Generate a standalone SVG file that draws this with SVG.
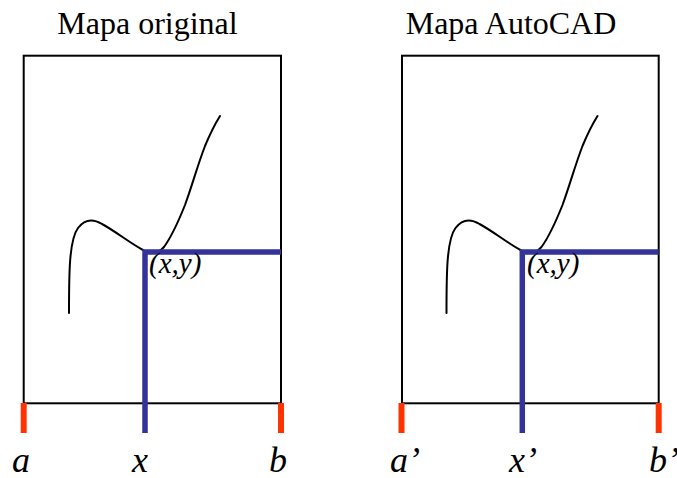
<svg xmlns="http://www.w3.org/2000/svg" width="677" height="478" viewBox="0 0 677 478">
<style>
.title{font-family:"Liberation Serif",serif;font-size:32px;fill:#000}
.lbl{font-family:"Liberation Serif",serif;font-style:italic;font-size:36px;fill:#000}
.pt{font-family:"Liberation Serif",serif;font-style:italic;font-size:29px;fill:#000}
.box{fill:none;stroke:#000;stroke-width:2}
.curve{fill:none;stroke:#000;stroke-width:2;stroke-linecap:round}
.blue{fill:none;stroke:#333399;stroke-width:5.5}
.red{fill:none;stroke:#FF3300;stroke-width:6}
</style>
<defs>
<path id="crv" d="M69,313 C69,275 69,240 78,228 C84,220 92,218 102,224 C115,231 130,243 143,250 C150,254 157,255 164,247 C172,236 179,220 185,205 C192,186 198,164 205,146 C210,134 215,124 220,116"/>
</defs>
<g id="left-map">
<text class="title" x="147.5" y="34" text-anchor="middle">Mapa original</text>
<rect class="box" x="23.7" y="55.7" width="257.3" height="347.6"/>
<use href="#crv" class="curve"/>
</g>
<g id="right-map">
<text class="title" x="511" y="34" text-anchor="middle">Mapa AutoCAD</text>
<rect class="box" x="402" y="55.7" width="256.7" height="347.6"/>
<use href="#crv" class="curve" transform="translate(377.5,0)"/>
</g>
<g id="connectors">
<polyline class="blue" points="145,433 145,252 281,252"/>
<line class="red" x1="23.7" y1="403" x2="23.7" y2="433"/>
<line class="red" x1="281" y1="403" x2="281" y2="433"/>
<polyline class="blue" points="522.3,433 522.3,252 658.7,252"/>
<line class="red" x1="401.5" y1="403" x2="401.5" y2="433"/>
<line class="red" x1="658.7" y1="403" x2="658.7" y2="433"/>
</g>
<g id="labels">
<text class="pt" x="149" y="273">(x,y)</text>
<text class="pt" x="527" y="273">(x,y)</text>
<text class="lbl" x="12" y="472">a</text>
<text class="lbl" x="132" y="472">x</text>
<text class="lbl" x="269" y="472">b</text>
<text class="lbl" x="390" y="472">a’</text>
<text class="lbl" x="509" y="472">x’</text>
<text class="lbl" x="649" y="472">b’</text>
</g>
</svg>
